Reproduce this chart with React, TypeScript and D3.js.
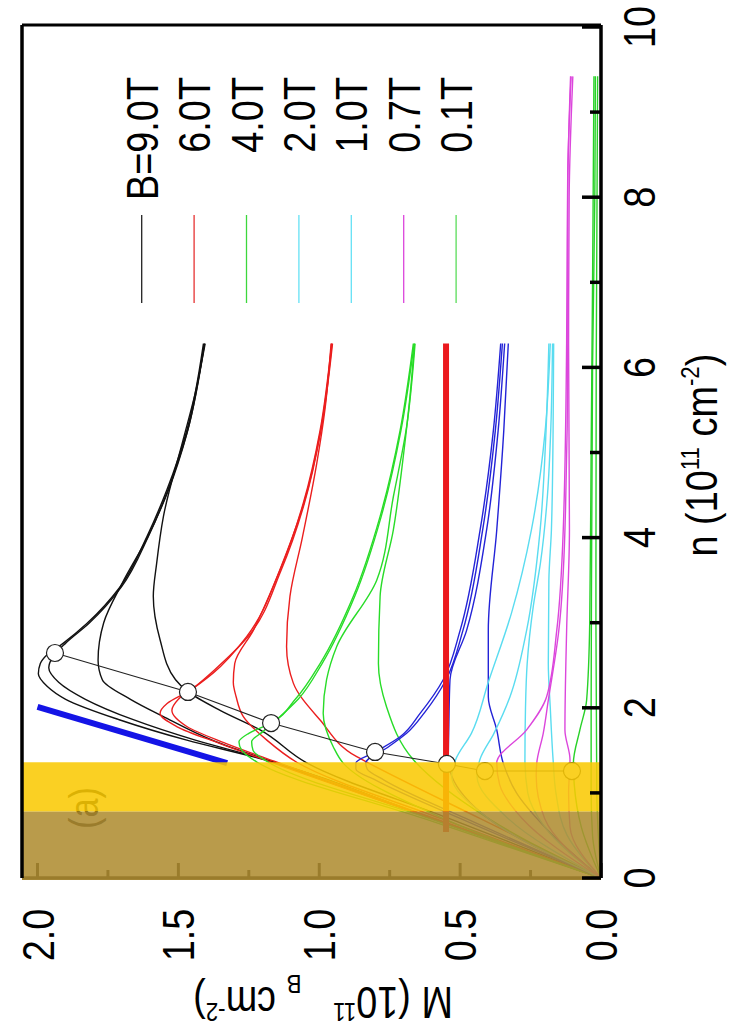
import React from 'react';
import * as d3 from 'd3';

type P = [number, number]; // [n, M]

// ---------- axes ----------
const nTicks = [0, 2, 4, 6, 8, 10];
const nMinorTicks = [1, 3, 5, 7, 9];
const mTicks = [0, 0.5, 1.0, 1.5, 2.0];
const mTickLabels = ['0.0', '0.5', '1.0', '1.5', '2.0'];
const mMinorTicks = [0.25, 0.75, 1.25, 1.75];

// ---------- legend ----------
const legendLabels = ['B=9.0T', '6.0T', '4.0T', '2.0T', '1.0T', '0.7T', '0.1T'];
const legendColors = ['#222', 'rgb(230,50,50)', 'rgb(60,215,60)', 'rgb(100,225,245)', 'rgb(100,225,245)', 'rgb(220,70,220)', 'rgb(90,220,90)'];

// ---------- curves: [n, M] ----------
const black9T: P[][] = [
  [[0,0],[0.7,0.6],[1.42,1.23],[1.62,1.47],[1.86,1.71],[2.1,1.9],[2.25,1.965],[2.4,1.997],[2.52,1.99],[2.62,1.967],[2.76,1.908],[2.99,1.825],[3.42,1.707],[4.01,1.612],[4.56,1.541],[5.26,1.47],[6.28,1.411]],
  [[0,0],[0.7,0.6],[1.42,1.22],[1.62,1.44],[1.86,1.66],[2.1,1.83],[2.3,1.925],[2.47,1.96],[2.6,1.945],[2.76,1.9],[2.99,1.818],[3.42,1.702],[4.01,1.607],[4.56,1.537],[5.26,1.467],[6.28,1.407]],
  [[0,0],[0.7,0.6],[1.39,1.19],[1.62,1.38],[1.9,1.555],[2.1,1.67],[2.33,1.77],[2.56,1.785],[3.0,1.765],[3.46,1.70],[4.0,1.61],[4.56,1.535],[5.22,1.47],[6.28,1.408]],
  [[0,0],[0.7,0.54],[1.35,1.043],[1.74,1.21],[1.97,1.352],[2.19,1.466],[2.33,1.51],[2.8,1.565],[3.31,1.589],[3.7,1.577],[4.25,1.553],[5.15,1.483],[5.7,1.44],[6.28,1.405]],
];
const red6T: P[][] = [
  [[0,0],[0.7,0.6],[1.36,1.17],[1.58,1.352],[1.78,1.506],[1.935,1.565],[2.05,1.54],[2.19,1.466],[2.41,1.376],[2.84,1.257],[3.62,1.139],[4.4,1.057],[5.26,0.997],[6.28,0.956]],
  [[0,0],[0.7,0.59],[1.36,1.15],[1.58,1.33],[1.78,1.47],[1.97,1.523],[2.1,1.5],[2.25,1.44],[2.45,1.37],[2.84,1.252],[3.62,1.135],[4.4,1.053],[5.26,0.994],[6.28,0.953]],
  [[0,0],[0.7,0.57],[1.36,1.08],[1.62,1.186],[1.9,1.27],[2.13,1.295],[2.3,1.305],[2.52,1.3],[2.91,1.234],[3.3,1.18],[3.62,1.14],[4.4,1.055],[5.26,0.995],[6.28,0.955]],
  [[0,0],[0.7,0.43],[1.36,0.83],[1.425,0.867],[1.857,0.997],[2.29,1.092],[2.72,1.116],[3.31,1.104],[4.0,1.06],[4.87,1.009],[5.5,0.98],[6.28,0.958]],
];
const green4T: P[][] = [
  [[0,0],[0.7,0.63],[1.36,1.22],[1.5,1.275],[1.6,1.285],[1.7,1.25],[1.82,1.171],[2.1,1.085],[2.52,0.997],[3.31,0.879],[4.25,0.784],[5.26,0.713],[6.28,0.666]],
  [[0,0],[0.7,0.61],[1.36,1.18],[1.5,1.235],[1.6,1.24],[1.72,1.2],[1.85,1.155],[2.1,1.075],[2.52,0.99],[3.31,0.874],[4.25,0.78],[5.26,0.71],[6.28,0.663]],
  [[0,0],[0.7,0.56],[1.35,0.915],[1.54,0.95],[1.935,0.986],[2.33,0.974],[2.72,0.938],[3.5,0.796],[4.48,0.737],[5.3,0.69],[6.28,0.66]],
  [[0,0],[0.7,0.4],[1.39,0.666],[2.01,0.761],[2.52,0.79],[3.31,0.784],[4.09,0.737],[5.0,0.70],[5.66,0.678],[6.28,0.662]],
];
const blue2T: P[][] = [
  [[0,0],[0.7,0.5],[1.15,0.8],[1.28,0.87],[1.35,0.87],[1.48,0.802],[1.66,0.713],[1.935,0.642],[2.33,0.56],[2.91,0.5],[4.09,0.429],[5.26,0.382],[6.28,0.356]],
  [[0,0],[0.7,0.48],[1.15,0.77],[1.28,0.83],[1.35,0.835],[1.54,0.755],[1.7,0.69],[1.95,0.625],[2.33,0.55],[2.91,0.49],[4.09,0.42],[5.26,0.375],[6.28,0.35]],
  [[0,0],[0.7,0.4],[1.2,0.53],[1.39,0.542],[1.8,0.54],[2.33,0.536],[2.91,0.477],[4.09,0.406],[5.26,0.365],[6.28,0.342]],
  [[0,0],[0.6,0.2],[1.0,0.3],[1.35,0.347],[1.74,0.37],[2.13,0.4],[2.91,0.4],[4.09,0.37],[5.26,0.345],[6.28,0.329]],
];
const cyan1T: P[][] = [
  [[0,0],[0.7,0.4],[1.2,0.53],[1.39,0.516],[1.7,0.46],[2.3,0.4],[3.11,0.318],[4.09,0.247],[5.26,0.198],[6.28,0.18]],
  [[0,0],[0.7,0.33],[1.2,0.44],[1.39,0.43],[1.7,0.38],[2.13,0.323],[2.91,0.264],[4.09,0.216],[5.26,0.195],[6.28,0.185]],
  [[0,0],[0.6,0.2],[1.0,0.26],[1.39,0.27],[2.0,0.268],[2.52,0.262],[3.2,0.24],[3.7,0.215],[4.5,0.19],[5.3,0.178],[6.28,0.172]],
  [[0,0],[0.5,0.12],[1.0,0.16],[1.39,0.17],[2.0,0.18],[2.52,0.187],[3.5,0.185],[4.09,0.176],[5.26,0.17],[6.28,0.168]],
];
const magenta07T: P[][] = [
  [[0,0],[0.7,0.28],[1.1,0.36],[1.35,0.37],[1.74,0.264],[2.13,0.193],[2.91,0.157],[4.09,0.134],[6.28,0.122],[7.5,0.12],[8.3,0.118],[9.42,0.106]],
  [[0,0],[0.6,0.11],[1.0,0.115],[1.39,0.11],[1.74,0.128],[2.91,0.122],[4.09,0.112],[6.28,0.115],[8.0,0.113],[9.42,0.1]],
  [[0,0],[0.7,0.2],[1.2,0.23],[1.35,0.228],[1.7,0.205],[2.09,0.187],[2.9,0.15],[4.09,0.128],[6.28,0.118],[8.0,0.118],[9.42,0.108]],
];
const green01T: P[][] = [
  [[0,0],[0.6,0.07],[1.1,0.095],[1.35,0.098],[1.74,0.075],[2.09,0.051],[3,0.04],[5,0.035],[7,0.03],[9.42,0.025]],
  [[0,0],[0.5,0.03],[1,0.035],[2,0.035],[4,0.033],[6,0.03],[8,0.022],[9.42,0.02]],
  [[0,0],[1,0.015],[3,0.018],[6,0.017],[9.42,0.012]],
];
const redLimit: P[] = [[0.54, 0.55], [6.28, 0.55]];
const blueLimit: P[] = [[1.35, 1.327], [2.01, 2.0]];
const circlePts: P[] = [[2.644,1.938],[2.186,1.466],[1.821,1.171],[1.481,0.802],[1.34,0.547],[1.257,0.412],[1.257,0.103]];
const yellowBand = [0.78, 1.36];
const brownBand = [0, 0.78];

const groups = [
  { data: black9T, color: '#111' },
  { data: red6T, color: 'rgb(235,30,30)' },
  { data: green4T, color: 'rgb(40,220,40)' },
  { data: blue2T, color: 'rgb(35,35,215)' },
  { data: cyan1T, color: 'rgb(90,220,240)' },
  { data: magenta07T, color: 'rgb(220,70,220)' },
  { data: green01T, color: 'rgb(40,210,40)' },
];

// ---------- layout ----------
const nScale = d3.scaleLinear().domain([0, 10]).range([878, 27]);
const mScale = d3.scaleLinear().domain([0, 2]).range([601, 37.5]);
const FL = 22, FR = 601, FT = 25, FB = 878;
const FONT = "'Liberation Sans', Arial, Helvetica, sans-serif";
const FS = 44, SX = 0.86;

function RText({ x, y, rot = -90, anchor = 'middle', size = FS, fill = '#000', children }: any) {
  return (
    <text transform={`translate(${x},${y}) rotate(${rot}) scale(${SX},1)`} textAnchor={anchor} fontSize={size} fill={fill}>
      {children}
    </text>
  );
}

export default function App() {
  const line = d3.line<P>().x(d => mScale(d[1])).y(d => nScale(d[0])).curve(d3.curveMonotoneY);
  const straight = d3.line<P>().x(d => mScale(d[1])).y(d => nScale(d[0]));
  const legX0 = 141.7, legStep = 52.4;

  return (
    <svg width={732} height={1030} style={{ position: 'absolute', left: 0, top: 0, background: '#fff' }} fontFamily={FONT}>
      <rect x={0} y={0} width={732} height={1030} fill="#fff" />
      {/* curves */}
      {groups.map((g, gi) =>
        g.data.map((c, ci) => (
          <path key={`${gi}-${ci}`} d={line(c) || ''} fill="none" stroke={g.color} strokeWidth={1.4} />
        ))
      )}
      <path d={straight(redLimit) || ''} stroke="rgb(235,25,30)" strokeWidth={6} fill="none" />
      <path d={straight(blueLimit) || ''} stroke="rgb(20,20,230)" strokeWidth={6} fill="none" />
      {/* connecting line + circles */}
      <path d={straight(circlePts) || ''} stroke="#222" strokeWidth={1.1} fill="none" />
      {circlePts.map((p, i) => (
        <circle key={i} cx={mScale(p[1])} cy={nScale(p[0])} r={8.5} fill="#fff" stroke="#222" strokeWidth={1.2} />
      ))}
      {/* (a) label */}
      <RText x={98} y={808} size={40}>(a)</RText>
      {/* bottom frame edge and ticks (under the overlay) */}
      <line x1={FL} x2={FR} y1={FB} y2={FB} stroke="#000" strokeWidth={3.5} />
      {mTicks.map(v => (
        <line key={`mt${v}`} x1={mScale(v)} x2={mScale(v)} y1={FB} y2={FB - 15} stroke="#000" strokeWidth={3} />
      ))}
      {mMinorTicks.map(v => (
        <line key={`mm${v}`} x1={mScale(v)} x2={mScale(v)} y1={FB} y2={FB - 8} stroke="#000" strokeWidth={3} />
      ))}
      {/* overlays */}
      <rect x={FL} width={FR - FL} y={nScale(yellowBand[1])} height={nScale(yellowBand[0]) - nScale(yellowBand[1])} fill="rgb(249,201,5)" fillOpacity={0.88} />
      <rect x={FL} width={FR - FL} y={nScale(brownBand[1])} height={FB + 2 - nScale(brownBand[1])} fill="rgb(175,141,50)" fillOpacity={0.88} />
      {/* frame */}
      <line x1={FL} x2={FR} y1={FT} y2={FT} stroke="#000" strokeWidth={3} />
      <line x1={FL} x2={FL} y1={FT} y2={FB} stroke="#000" strokeWidth={3.5} />
      <line x1={FR} x2={FR} y1={FT} y2={FB} stroke="#000" strokeWidth={3.5} />
      {nTicks.map(v => (
        <line key={`nt${v}`} x1={FR} x2={FR - 19} y1={nScale(v)} y2={nScale(v)} stroke="#000" strokeWidth={3.5} />
      ))}
      {nMinorTicks.map(v => (
        <line key={`nm${v}`} x1={FR} x2={FR - 11} y1={nScale(v)} y2={nScale(v)} stroke="#000" strokeWidth={3.5} />
      ))}
      {/* tick labels */}
      {nTicks.map(v => (
        <RText key={`nl${v}`} x={655} y={nScale(v)}>{String(v)}</RText>
      ))}
      {mTicks.map((v, i) => (
        <RText key={`ml${v}`} x={mScale(v) + 16} y={935}>{mTickLabels[i]}</RText>
      ))}
      {/* axis titles */}
      <RText x={717} y={455}>
        <tspan>n (10</tspan>
        <tspan fontSize={26} dy={-18}>11</tspan>
        <tspan dy={18}> cm</tspan>
        <tspan fontSize={26} dy={-18}>-2</tspan>
        <tspan dy={18}>)</tspan>
      </RText>
      <RText x={323} y={987} rot={180}>
        <tspan>M (10</tspan>
        <tspan fontSize={26} dy={-16}>11</tspan>
        <tspan dy={16}>{'\u00a0\u00a0\u00a0'}</tspan>
        <tspan fontSize={26} dy={12}>B</tspan>
        <tspan dy={-12}> cm</tspan>
        <tspan fontSize={26} dy={-16}>-2</tspan>
        <tspan dy={16}>)</tspan>
      </RText>
      {/* legend */}
      {legendLabels.map((lab, i) => {
        const x = legX0 + i * legStep;
        return (
          <g key={lab}>
            <line x1={x} x2={x} y1={215} y2={303} stroke={legendColors[i]} strokeWidth={1.3} />
            <RText x={x + 16} y={77} anchor="end">{lab}</RText>
          </g>
        );
      })}
    </svg>
  );
}
